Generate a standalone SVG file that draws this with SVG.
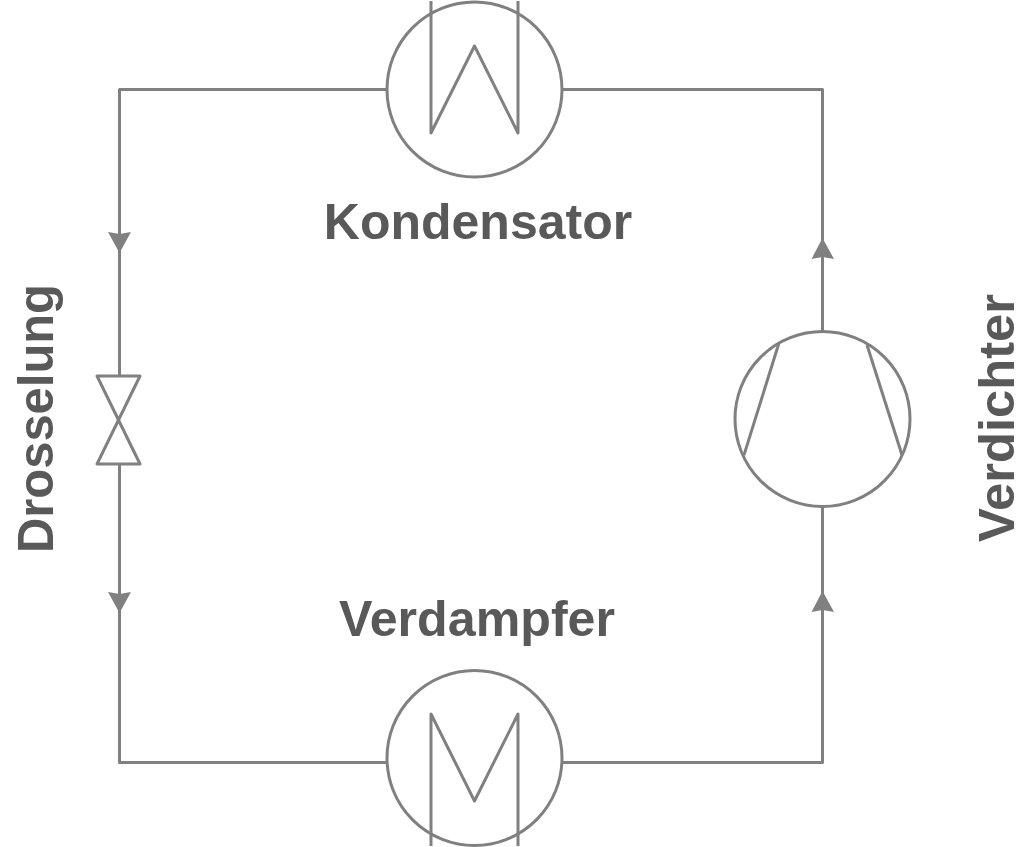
<svg xmlns="http://www.w3.org/2000/svg" width="1030" height="847" viewBox="0 0 1030 847">
<style>
.s{fill:none;stroke:#808080;stroke-width:3;stroke-linejoin:round;stroke-linecap:butt}
.a{fill:#808080;stroke:none}
.t{font-family:"Liberation Sans",Arial,sans-serif;font-weight:700;font-size:50px;fill:#595959}
</style>
<rect width="1030" height="847" fill="#fff"/>
<g id="connectors">
<path class="s" d="M387 89.500H119.500V376"/>
<path class="s" d="M119.500 464V762.500H387"/>
<path class="s" d="M562 762.500H822.500V507"/>
<path class="s" d="M822.500 332V89.500H562"/>
<polygon class="a" points="108,232 119.500,234 131,232 119.500,253"/>
<polygon class="a" points="108,592 119.500,594 131,592 119.500,613"/>
<polygon class="a" points="811.500,259 822.500,257 834,259 822.500,238"/>
<polygon class="a" points="811.500,612 822.500,610 834,612 822.500,591"/>
</g>
<g id="kondensator">
<circle class="s" cx="474.500" cy="89.500" r="87.500"/>
<path class="s" d="M431 1V133L474.500 46L518 133V1"/>
<text class="t" x="478" y="239" text-anchor="middle">Kondensator</text>
</g>
<g id="verdampfer">
<circle class="s" cx="474.500" cy="758" r="87.500"/>
<path class="s" d="M431 846V714L474.500 801L518 714V846"/>
<text class="t" x="477" y="636" text-anchor="middle" textLength="276" lengthAdjust="spacingAndGlyphs">Verdampfer</text>
</g>
<g id="verdichter">
<circle class="s" cx="822.500" cy="419" r="87.500"/>
<path class="s" d="M779 343L744 455"/>
<path class="s" d="M867 345L902 455"/>
<text class="t" transform="translate(1013.500 418) rotate(-90)" text-anchor="middle" textLength="248" lengthAdjust="spacingAndGlyphs">Verdichter</text>
</g>
<g id="drosselung">
<path class="s" d="M97 376H140L97 464H140Z"/>
<text class="t" transform="translate(53 418.500) rotate(-90)" text-anchor="middle" textLength="269" lengthAdjust="spacingAndGlyphs">Drosselung</text>
</g>
</svg>
